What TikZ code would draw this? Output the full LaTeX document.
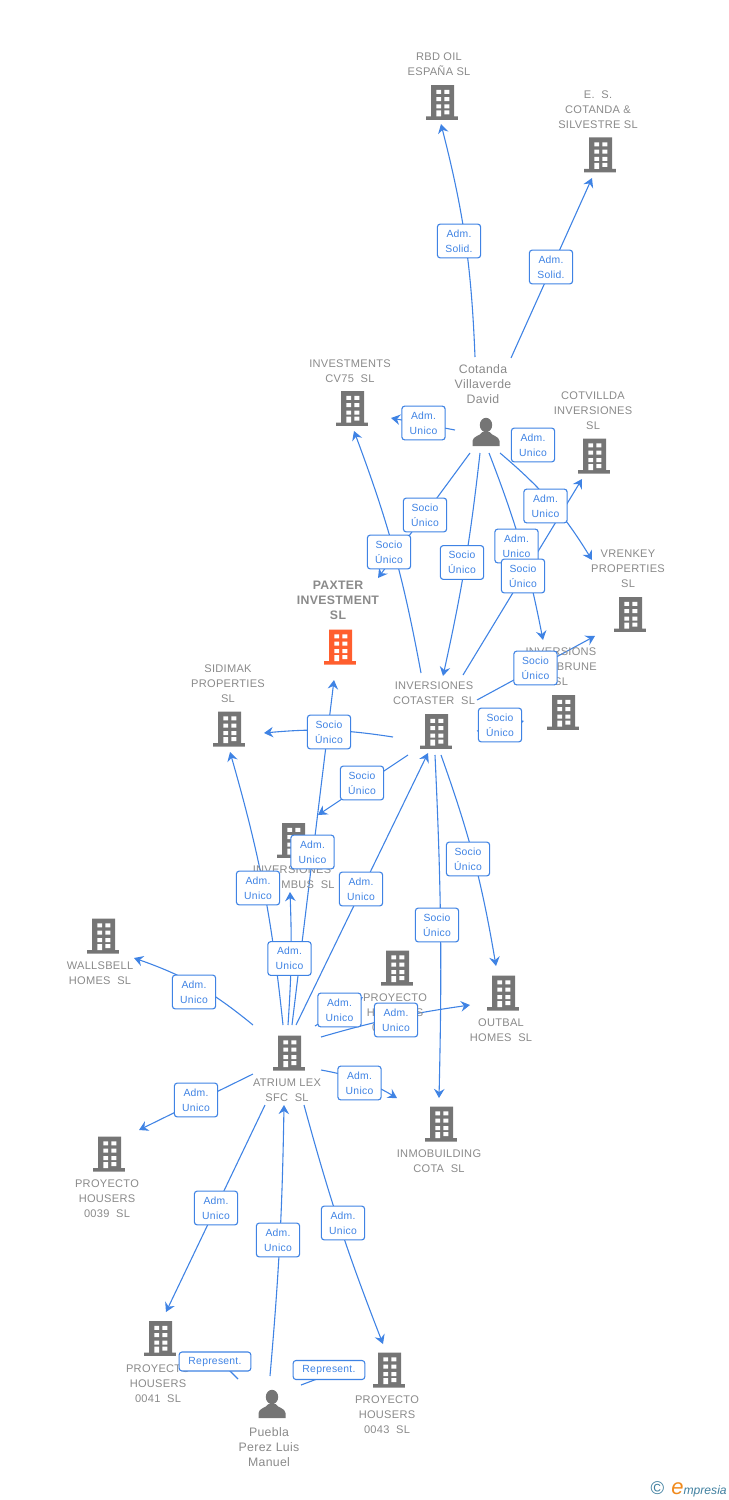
\documentclass[tikz,border=0pt]{standalone}
\usepackage{fontspec}
\setmainfont[LetterSpace=2.5]{Liberation Sans}
\newfontfamily\logofont{Liberation Sans}
\usetikzlibrary{arrows.meta}
\definecolor{linkblue}{HTML}{3F83E4}
\definecolor{labelgrey}{HTML}{8A8A8A}
\definecolor{icongrey}{HTML}{757575}
\definecolor{iconorange}{HTML}{FF5E2E}
\definecolor{logoteal}{HTML}{3F7F9F}
\definecolor{logoorange}{HTML}{F08A1D}
\tikzset{
  x=0.02cm,y=-0.02cm,
  conn/.style={draw=linkblue,line width=0.62pt,-{Stealth[length=5.2pt,width=6pt,inset=1.8pt]}},
  plainconn/.style={draw=linkblue,line width=0.62pt},
  linkbox/.style={draw=linkblue,line width=0.62pt,fill=white,rounded corners=1.6pt,text=linkblue,
    font=\fontsize{5.9}{8.5}\selectfont,align=center,minimum width=24.6pt,minimum height=19.2pt,inner sep=0pt},
  repbox/.style={linkbox,minimum width=40.8pt,minimum height=10.8pt},
  enttext/.style={text=labelgrey,font=\fontsize{6.3}{8.5}\selectfont,align=center,inner sep=0pt},
  nametext/.style={enttext,font=\fontsize{7}{8.5}\selectfont},
  maintext/.style={enttext,font=\fontsize{7}{8.5}\selectfont\bfseries},
  bldg/.style={minimum width=18.2pt,minimum height=19.9pt,inner sep=0pt,outer sep=0pt,
    path picture={\begin{scope}[shift={(path picture bounding box.center)}]
      \fill[#1] (-11,-17.5) rectangle (12,15) (-16,14) rectangle (16,17.5);
      \fill[white] (-5.7,-12.7) rectangle (-1,-8.7) (2.3,-12.7) rectangle (7.3,-8.7)
        (-5.7,-5.3) rectangle (-1,-1.3) (2.3,-5.3) rectangle (7.3,-1.3)
        (-5.7,2) rectangle (-1,6) (2.3,2) rectangle (7.3,6)
        (-5.7,8) rectangle (-1,14) (2.3,8) rectangle (7.3,12);
    \end{scope}}},
  bldg/.default=icongrey,
  person/.style={minimum width=15.4pt,minimum height=16pt,inner sep=0pt,outer sep=0pt,
    path picture={\begin{scope}[shift={(path picture bounding box.center)}]
      \fill[icongrey] (0,-7) ellipse (6.2 and 7.2);
      \fill[icongrey] (-13.5,14) -- (-13.5,9) .. controls (-13,4) and (-6,4) .. (-3.5,0) -- (3.5,0)
        .. controls (6,4) and (13,4) .. (13.5,9) -- (13.5,14) -- cycle;
    \end{scope}}},
}
\begin{document}
\begin{tikzpicture}
\useasboundingbox (0,0) rectangle (728,1500);
% connector ends
\coordinate (s1) at (475,357); \coordinate (t1) at (441,124);
\coordinate (s2) at (511,358); \coordinate (t2) at (592,178);
\coordinate (s3) at (455,430); \coordinate (t3) at (391,418);
\coordinate (s4) at (500,453); \coordinate (t4) at (592,560);
\coordinate (s5) at (489,453); \coordinate (t5) at (543,640);
\coordinate (s6) at (480,453); \coordinate (t6) at (443,676);
\coordinate (s7) at (470,453); \coordinate (t7) at (378,578);
\coordinate (s8) at (463,675); \coordinate (t8) at (582,479);
\coordinate (s9) at (477,700); \coordinate (t9) at (595,636);
\coordinate (s10) at (477,731); \coordinate (t10) at (524,721);
\coordinate (s11) at (421,673); \coordinate (t11) at (354,431);
\coordinate (s12) at (393,737); \coordinate (t12) at (264,733);
\coordinate (s13) at (408,755); \coordinate (t13) at (318,815);
\coordinate (s14) at (435,755); \coordinate (t14) at (439,1098);
\coordinate (s15) at (441,755); \coordinate (t15) at (496,966);
\coordinate (s16) at (283,1025); \coordinate (t16) at (230,752);
\coordinate (s17) at (288,1025); \coordinate (t17) at (290,892);
\coordinate (s18) at (292,1025); \coordinate (t18) at (334,680);
\coordinate (s19) at (296,1025); \coordinate (t19) at (428,753);
\coordinate (s20) at (253,1025); \coordinate (t20) at (134,958);
\coordinate (s21) at (315,1026); \coordinate (t21) at (363,997);
\coordinate (s22) at (321,1037); \coordinate (t22) at (470,1005);
\coordinate (s23) at (321,1070); \coordinate (t23) at (397,1098);
\coordinate (s24) at (253,1074); \coordinate (t24) at (139,1130);
\coordinate (s25) at (265,1105); \coordinate (t25) at (166,1312);
\coordinate (s26) at (304,1105); \coordinate (t26) at (383,1344);
\coordinate (s27) at (270,1376); \coordinate (t27) at (284,1105);
\coordinate (s28) at (238,1379); \coordinate (t28) at (228,1369);
\coordinate (s29) at (301,1385); \coordinate (t29) at (317,1379);
% connectors
\draw[conn] (s1) to[bend right=6] (t1);
\draw[conn] (s2) -- (t2);
\draw[conn] (s3) -- (t3);
\draw[conn] (s4) to[bend left=9] (t4);
\draw[conn] (s5) to[bend left=5] (t5);
\draw[conn] (s6) to[bend left=3] (t6);
\draw[conn] (s7) -- (t7);
\draw[conn] (s8) -- (t8);
\draw[conn] (s9) -- (t9);
\draw[conn] (s10) -- (t10);
\draw[conn] (s11) to[bend right=5] (t11);
\draw[conn] (s12) to[bend right=7] (t12);
\draw[conn] (s13) -- (t13);
\draw[conn] (s14) to[bend left=2] (t14);
\draw[conn] (s15) to[bend left=5] (t15);
\draw[conn] (s16) to[bend right=5] (t16);
\draw[conn] (s17) to[bend right=3] (t17);
\draw[conn] (s18) -- (t18);
\draw[conn] (s19) -- (t19);
\draw[conn] (s20) to[bend right=10] (t20);
\draw[conn] (s21) -- (t21);
\draw[conn] (s22) to[bend left=4] (t22);
\draw[conn] (s23) to[bend left=10] (t23);
\draw[conn] (s24) -- (t24);
\draw[conn] (s25) -- (t25);
\draw[conn] (s26) to[bend right=3] (t26);
\draw[conn] (s27) to[bend right=2] (t27);
\draw[plainconn] (s28) -- (t28);
\draw[plainconn] (s29) -- (t29);
% buildings
\node[bldg] (rbd) at (442,102.5) {};
\node[bldg] (es) at (600,155) {};
\node[bldg] (cv75) at (352,408.5) {};
\node[bldg] (cotvillda) at (594,456) {};
\node[bldg] (vrenkey) at (630,614.5) {};
\node[bldg] (albrune) at (563,712.5) {};
\node[bldg] (cotaster) at (436,731.5) {};
\node[bldg=iconorange] (paxter) at (340,647) {};
\node[bldg] (sidimak) at (229,729) {};
\node[bldg] (columbus) at (293,840.5) {};
\node[bldg] (wallsbell) at (103,936) {};
\node[bldg] (h40) at (397,968) {};
\node[bldg] (outbal) at (503,993) {};
\node[bldg] (inmo) at (441,1124) {};
\node[bldg] (atrium) at (289,1053) {};
\node[bldg] (h39) at (109,1154) {};
\node[bldg] (h41) at (160,1338.5) {};
\node[bldg] (h43) at (389,1370) {};
\node[person] (cotanda) at (486,432) {};
\node[person] (puebla) at (272,1404) {};
% names
\node[enttext] (rbd-t) at (439,64) {RBD OIL\\ESPAÑA SL};
\node[enttext] (es-t) at (598,109.5) {E.\ \ S.\\COTANDA \&\\SILVESTRE SL};
\node[enttext] (cv75-t) at (350,371) {INVESTMENTS\\CV75\ \ SL};
\node[nametext] (cotanda-t) at (483,384) {Cotanda\\Villaverde\\David};
\node[enttext] (cotvillda-t) at (593,410.5) {COTVILLDA\\INVERSIONES\\SL};
\node[enttext] (vrenkey-t) at (628,568.5) {VRENKEY\\PROPERTIES\\SL};
\node[enttext] (albrune-t) at (561,666.5) {INVERSIONS\\VILLABRUNE\\SL};
\node[enttext] (cotaster-t) at (434,693) {INVERSIONES\\COTASTER\ \ SL};
\node[maintext] (paxter-t) at (338,600.5) {PAXTER\\INVESTMENT\\SL};
\node[enttext] (sidimak-t) at (228,683.5) {SIDIMAK\\PROPERTIES\\SL};
\node[enttext] (columbus-t) at (292,877) {INVERSIONES\\COLUMBUS\ \ SL};
\node[enttext] (wallsbell-t) at (100,973) {WALLSBELL\\HOMES\ \ SL};
\node[enttext] (h40-t) at (395,1012.5) {PROYECTO\\HOUSERS\\0040\ \ SL};
\node[enttext] (outbal-t) at (501,1030) {OUTBAL\\HOMES\ \ SL};
\node[enttext] (inmo-t) at (439,1161) {INMOBUILDING\\COTA\ \ SL};
\node[enttext] (atrium-t) at (287,1090) {ATRIUM LEX\\SFC\ \ SL};
\node[enttext] (h39-t) at (107,1198.5) {PROYECTO\\HOUSERS\\0039\ \ SL};
\node[enttext] (h41-t) at (158,1383.5) {PROYECTO\\HOUSERS\\0041\ \ SL};
\node[enttext] (h43-t) at (387,1414.5) {PROYECTO\\HOUSERS\\0043\ \ SL};
\node[nametext] (puebla-t) at (269,1447) {Puebla\\Perez Luis\\Manuel};
% connector labels
\node[linkbox] (l1) at (459,241) {Adm.\\Solid.};
\node[linkbox] (l2) at (551,267) {Adm.\\Solid.};
\node[linkbox] (l3) at (423.5,423) {Adm.\\Unico};
\node[linkbox] (l4) at (533,445) {Adm.\\Unico};
\node[linkbox] (l5) at (545.5,506) {Adm.\\Unico};
\node[linkbox] (l6) at (516.5,546) {Adm.\\Unico};
\node[linkbox] (l7) at (425,515) {Socio\\Único};
\node[linkbox] (l8) at (389,552) {Socio\\Único};
\node[linkbox] (l9) at (462,562.5) {Socio\\Único};
\node[linkbox] (l10) at (523,576) {Socio\\Único};
\node[linkbox] (l11) at (535.5,668) {Socio\\Único};
\node[linkbox] (l12) at (500,725) {Socio\\Único};
\node[linkbox] (l13) at (329,732) {Socio\\Único};
\node[linkbox] (l14) at (362,783) {Socio\\Único};
\node[linkbox] (l15) at (312.5,852) {Adm.\\Unico};
\node[linkbox] (l16) at (258,888) {Adm.\\Unico};
\node[linkbox] (l17) at (361,889) {Adm.\\Unico};
\node[linkbox] (l18) at (468,859) {Socio\\Único};
\node[linkbox] (l19) at (437,925) {Socio\\Único};
\node[linkbox] (l20) at (289.5,958.5) {Adm.\\Unico};
\node[linkbox] (l21) at (194,992) {Adm.\\Unico};
\node[linkbox] (l22) at (339.5,1010) {Adm.\\Unico};
\node[linkbox] (l23) at (396,1020) {Adm.\\Unico};
\node[linkbox] (l24) at (359.5,1083) {Adm.\\Unico};
\node[linkbox] (l25) at (196,1100) {Adm.\\Unico};
\node[linkbox] (l26) at (216,1208) {Adm.\\Unico};
\node[linkbox] (l27) at (343,1223) {Adm.\\Unico};
\node[linkbox] (l28) at (278,1240) {Adm.\\Unico};
\node[repbox] (l29) at (215,1361.5) {Represent.};
\node[repbox] (l30) at (329,1370) {Represent.};
% logo
\node[inner sep=0pt,text=logoteal,font=\logofont\fontsize{10.5}{10.5}\selectfont] (copy) at (657.5,1488.5) {©};
\node[inner sep=0pt,anchor=base west] (logo) at (671,1494)
  {\logofont\itshape{\color{logoorange}\fontsize{12.5}{13}\selectfont e}{\color{logoteal}\fontsize{6.9}{8}\selectfont mpresia}};
\end{tikzpicture}
\end{document}
